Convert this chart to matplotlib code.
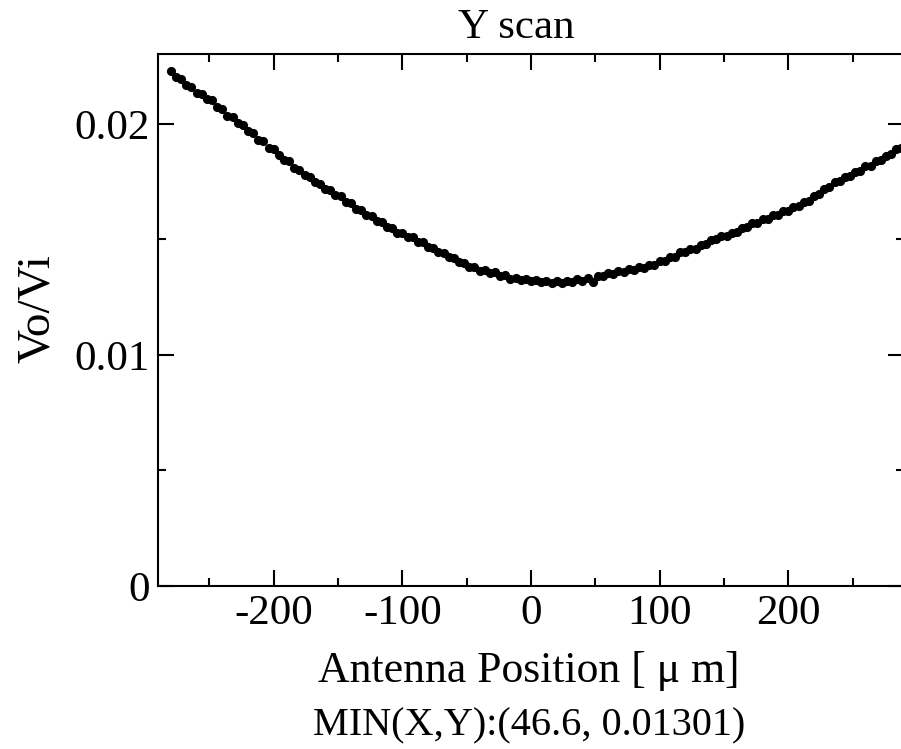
import matplotlib
matplotlib.use("Agg")
import matplotlib.pyplot as plt
from matplotlib.ticker import MultipleLocator, FixedLocator, FixedFormatter

# ---- data ----
position_um = list(range(-280, 289, 4))
ratio_e5 = [
    2231, 2204, 2195, 2168, 2160, 2136, 2131, 2109, 2102, 2074,
    2064, 2035, 2029, 2003, 1996, 1968, 1961, 1930, 1926, 1898,
    1893, 1864, 1845, 1838, 1810, 1803, 1780, 1772, 1748, 1741,
    1717, 1714, 1693, 1690, 1664, 1658, 1634, 1629, 1607, 1603,
    1580, 1575, 1553, 1550, 1530, 1529, 1511, 1509, 1489, 1487,
    1467, 1465, 1446, 1443, 1423, 1421, 1402, 1399, 1382, 1380,
    1364, 1366, 1354, 1358, 1344, 1345, 1331, 1334, 1325, 1331,
    1320, 1326, 1315, 1321, 1313, 1320, 1312, 1322, 1317, 1327,
    1321, 1334, 1318, 1343, 1341, 1353, 1350, 1362, 1359, 1371,
    1367, 1380, 1377, 1391, 1391, 1406, 1406, 1424, 1426, 1444,
    1444, 1460, 1460, 1478, 1480, 1499, 1501, 1516, 1515, 1530,
    1531, 1550, 1553, 1571, 1572, 1589, 1590, 1607, 1607, 1624,
    1625, 1642, 1643, 1661, 1667, 1690, 1696, 1719, 1727, 1750,
    1753, 1772, 1775, 1794, 1797, 1816, 1820, 1839, 1842, 1862,
    1868, 1891, 1896,
]
vo_vi = [v * 1e-5 for v in ratio_e5]

x_ticks = [-200, -100, 0, 100, 200]
x_tick_labels = ["-200", "-100", "0", "100", "200"]
y_ticks = [0.0, 0.01, 0.02]
y_tick_labels = ["0", "0.01", "0.02"]

title = "Y scan"
y_label = "Vo/Vi"
x_label = "Antenna Position [ \u03bc m]"
min_label = "MIN(X,Y):(46.6, 0.01301)"

# ---- figure ----
plt.rcParams["font.family"] = ["Liberation Serif", "DejaVu Serif"]
FS = 31
W, H = 901, 749
fig = plt.figure(figsize=(W / 100, H / 100), dpi=100)
ax = fig.add_axes([158 / W, (H - 586) / H, (904 - 158) / W, (586 - 54) / H])

ax.plot(position_um, vo_vi, linestyle="none", marker="o", markersize=6.6,
        color="black", markeredgewidth=0)

ax.set_xlim(-290, 290)
ax.set_ylim(0, 0.02303)

ax.xaxis.set_major_locator(FixedLocator(x_ticks))
ax.xaxis.set_major_formatter(FixedFormatter(x_tick_labels))
ax.xaxis.set_minor_locator(MultipleLocator(50))
ax.yaxis.set_major_locator(FixedLocator(y_ticks))
ax.yaxis.set_major_formatter(FixedFormatter(y_tick_labels))
ax.yaxis.set_minor_locator(MultipleLocator(0.005))

ax.tick_params(which="both", direction="in", top=True, right=True,
               width=1.5, labelsize=FS, colors="black")
ax.tick_params(which="major", length=11.5, pad=6)
ax.tick_params(which="minor", length=5.8)
for s in ax.spines.values():
    s.set_linewidth(1.5)

fig.text(516 / W, 1 - 38 / H, title, ha="center", va="baseline", fontsize=FS)
fig.text(38 / W, 1 - 309 / H, y_label, ha="center", va="center",
         rotation=90, fontsize=34)
fig.text(529 / W, 1 - 682 / H, x_label, ha="center", va="baseline", fontsize=31.5)
fig.text(529 / W, 1 - 735 / H, min_label, ha="center", va="baseline", fontsize=29)

fig.savefig("out.png", dpi=100)
